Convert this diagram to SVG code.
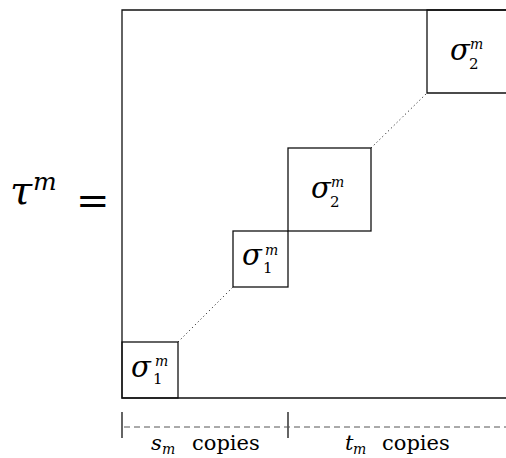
<svg xmlns="http://www.w3.org/2000/svg" width="506" height="458" viewBox="0 0 506 458" font-family="DejaVu Serif">
<style>
.ln{stroke:#111;stroke-width:1.3;fill:none}
.dot{stroke:#000;stroke-width:1;stroke-dasharray:1,3;fill:none}
.dash{stroke:#555;stroke-width:1;stroke-dasharray:6,4;fill:none}
.m{font-style:italic}
.s{font-size:29px}
.sup{font-size:14px}
.sub{font-size:15px}
</style>
<rect width="506" height="458" fill="#fff"/>
<g id="frame">
<path class="ln" d="M506,10 H122 V398 H506"/>
</g>
<g id="lhs" font-family="DejaVu Serif">
<text class="m" x="10" y="204" font-size="40">τ</text>
<text class="m" x="33" y="190" font-size="25">m</text>
<text x="76" y="214" font-size="40">=</text>
</g>
<g id="box1" font-family="DejaVu Serif">
<rect class="ln" x="122" y="342" width="56" height="56"/>
<text class="m s" x="131" y="377">σ</text>
<text class="m sup" x="155" y="366">m</text>
<text class="sub" x="153" y="384">1</text>
</g>
<g id="box2" font-family="DejaVu Serif">
<rect class="ln" x="233" y="231" width="55" height="56"/>
<text class="m s" x="242" y="265">σ</text>
<text class="m sup" x="265" y="255">m</text>
<text class="sub" x="263" y="273">1</text>
</g>
<g id="box3" font-family="DejaVu Serif">
<rect class="ln" x="288" y="148" width="83" height="83"/>
<text class="m s" x="311" y="198">σ</text>
<text class="m sup" x="331" y="187">m</text>
<text class="sub" x="330" y="207">2</text>
</g>
<g id="box4" font-family="DejaVu Serif">
<path class="ln" d="M506,10 H427 V93 H506"/>
<text class="m s" x="450" y="60">σ</text>
<text class="m sup" x="470" y="49">m</text>
<text class="sub" x="469" y="69">2</text>
</g>
<g id="connectors">
<line class="dot" x1="178" y1="342" x2="233" y2="287"/>
<line class="dot" x1="371" y1="148" x2="427" y2="93"/>
</g>
<g id="bracket" font-family="DejaVu Serif">
<line class="ln" x1="122" y1="412" x2="122" y2="438" stroke-width="1"/>
<line class="ln" x1="288" y1="412" x2="288" y2="438" stroke-width="1"/>
<line class="dash" x1="124" y1="427" x2="506" y2="427"/>
<text class="m" x="151" y="450" font-size="21">s</text>
<text class="m" x="162" y="454" font-size="14">m</text>
<text x="192" y="450" font-size="21">copies</text>
<text class="m" x="345" y="450" font-size="21">t</text>
<text class="m" x="353" y="454" font-size="14">m</text>
<text x="382" y="450" font-size="21">copies</text>
</g>
</svg>
